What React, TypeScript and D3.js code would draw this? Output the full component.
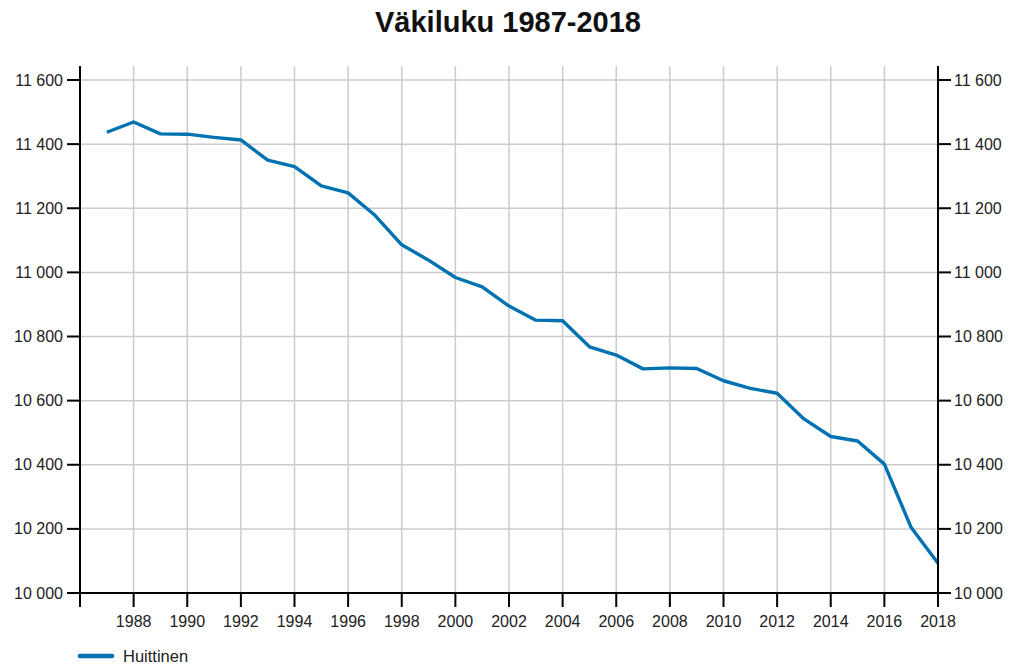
import * as React from 'react';
import {useEffect, useRef} from 'react';
import * as d3 from 'd3';

const years = [1987, 1988, 1989, 1990, 1991, 1992, 1993, 1994, 1995, 1996, 1997, 1998, 1999, 2000, 2001, 2002,
  2003, 2004, 2005, 2006, 2007, 2008, 2009, 2010, 2011, 2012, 2013, 2014, 2015, 2016, 2017, 2018];
const population = [11437, 11469, 11432, 11431, 11421, 11413, 11350, 11330, 11270, 11248, 11178, 11086, 11038, 10984,
  10955, 10895, 10851, 10849, 10768, 10742, 10699, 10702, 10700, 10662, 10638, 10623, 10543, 10488, 10474, 10402,
  10204, 10093];
const yTicks = [10000, 10200, 10400, 10600, 10800, 11000, 11200, 11400, 11600];
const xTicks = [1988, 1990, 1992, 1994, 1996, 1998, 2000, 2002, 2004, 2006, 2008, 2010, 2012, 2014, 2016, 2018];
const seriesName = 'Huittinen';
const title = 'Väkiluku 1987-2018';

const width = 1015;
const height = 666;
const margin = {left: 80, right: 77, top: 80, bottom: 73};
const color = '#0072b2';
const fmt = (v: number) => d3.format(',')(v).replace(/,/g, '\u00a0');

export default function App() {
  const ref = useRef<SVGSVGElement>(null);

  useEffect(() => {
    const svg = d3.select(ref.current!);
    svg.selectAll('*').remove();
    svg.style('font-family', '"Liberation Sans", Arial, sans-serif');

    const x = d3.scaleLinear().domain([1986, 2018]).range([margin.left, width - margin.right]);
    const y = d3.scaleLinear().domain([10000, 11600]).range([height - margin.bottom, margin.top]);
    const [x0, x1] = x.range();
    const [y0, y1] = y.range();

    // grid
    const grid = svg.append('g').attr('stroke', '#cccccc').attr('stroke-width', 1.5);
    grid.selectAll('line.h').data(yTicks.slice(1)).join('line')
      .attr('x1', x0).attr('x2', x1).attr('y1', d => y(d)).attr('y2', d => y(d));
    grid.selectAll('line.v').data(xTicks.slice(0, -1)).join('line')
      .attr('x1', d => x(d)).attr('x2', d => x(d)).attr('y1', y1 - 14).attr('y2', y0);

    // line
    const line = d3.line<number>().x((_, i) => x(years[i])).y(d => y(d));
    svg.append('path').datum(population)
      .attr('fill', 'none').attr('stroke', color).attr('stroke-width', 3.4)
      .attr('stroke-linejoin', 'round')
      .attr('d', line);

    // axes
    const axes = svg.append('g').attr('stroke', '#000').attr('stroke-width', 2);
    axes.append('line').attr('x1', x0).attr('x2', x0).attr('y1', y1 - 14).attr('y2', y0 + 14);
    axes.append('line').attr('x1', x1).attr('x2', x1).attr('y1', y1 - 14).attr('y2', y0 + 14);
    axes.append('line').attr('x1', x0).attr('x2', x1).attr('y1', y0).attr('y2', y0);
    axes.selectAll('line.yl').data(yTicks).join('line')
      .attr('x1', x0 - 13).attr('x2', x0).attr('y1', d => y(d)).attr('y2', d => y(d));
    axes.selectAll('line.yr').data(yTicks).join('line')
      .attr('x1', x1).attr('x2', x1 + 13).attr('y1', d => y(d)).attr('y2', d => y(d));
    axes.selectAll('line.xt').data(xTicks).join('line')
      .attr('x1', d => x(d)).attr('x2', d => x(d)).attr('y1', y0).attr('y2', y0 + 14);

    const labels = svg.append('g').attr('font-size', 16).attr('fill', '#222');
    labels.selectAll('text.yl').data(yTicks).join('text')
      .attr('x', x0 - 17).attr('y', d => y(d)).attr('dy', '0.35em').attr('text-anchor', 'end')
      .text(d => fmt(d));
    labels.selectAll('text.yr').data(yTicks).join('text')
      .attr('x', x1 + 16).attr('y', d => y(d)).attr('dy', '0.35em').attr('text-anchor', 'start')
      .text(d => fmt(d));
    labels.selectAll('text.xt').data(xTicks).join('text')
      .attr('x', d => x(d)).attr('y', y0 + 34).attr('text-anchor', 'middle')
      .text(d => String(d));

    svg.append('text').attr('x', 508).attr('y', 32).attr('text-anchor', 'middle')
      .attr('font-size', 29).attr('font-weight', 'bold').attr('fill', '#111').text(title);

    // legend
    const lg = svg.append('g');
    lg.append('line').attr('x1', 80).attr('x2', 112).attr('y1', 656).attr('y2', 656)
      .attr('stroke', color).attr('stroke-width', 4.5).attr('stroke-linecap', 'round');
    lg.append('text').attr('x', 123).attr('y', 656).attr('dy', '0.35em')
      .attr('font-size', 16.5).attr('fill', '#222').text(seriesName);
  }, []);

  return (
    <svg ref={ref} width={width} height={height}
      style={{position: 'absolute', left: 0, top: 0, background: '#fff'}}/>
  );
}
